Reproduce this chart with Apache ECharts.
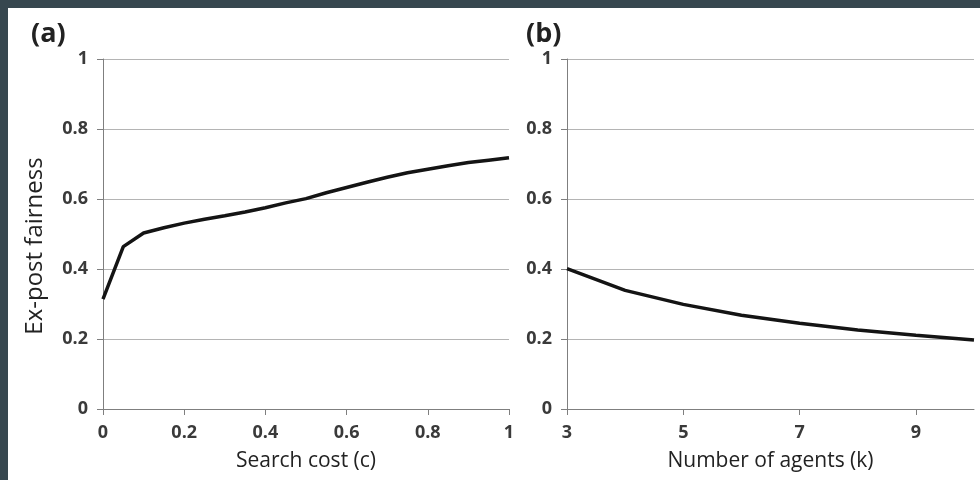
<!DOCTYPE html>
<html>
<head>
<meta charset="utf-8">
<script src="https://cdn.jsdelivr.net/npm/echarts@6/dist/echarts.min.js"></script>
<style>
  html, body { margin: 0; padding: 0; background: #37474f; }
  #chart { position: absolute; left: 8px; top: 8px; width: 972px; height: 472px; background: #fff; }
</style>
</head>
<body>
<div id="chart"></div>
<script>
// panel (a): fairness vs search cost
const costs = [0, 0.05, 0.1, 0.15, 0.2, 0.25, 0.3, 0.35, 0.4, 0.45, 0.5,
  0.55, 0.6, 0.65, 0.7, 0.75, 0.8, 0.85, 0.9, 0.95, 1]
const fairnessByCost = [0.314, 0.464, 0.503, 0.518, 0.531, 0.542, 0.552, 0.563, 0.575, 0.589, 0.601,
  0.618, 0.633, 0.648, 0.662, 0.675, 0.685, 0.695, 0.704, 0.711, 0.718]

// panel (b): fairness vs number of agents
const agents = [3, 4, 5, 6, 7, 8, 9, 10]
const fairnessByAgents = [0.401, 0.339, 0.299, 0.268, 0.245, 0.226, 0.211, 0.197]
const agentTicks = [3, 5, 7, 9]

const fontFamily = '"Open Sans", "Noto Sans", sans-serif'
const axisGray = '#7f7f7f'
const tickLabel = { margin: 15, fontFamily: fontFamily, fontSize: 18, fontWeight: 'bold', color: '#3a3a3a' }

function yAxisOpt(gridIndex, name) {
  return {
    type: 'value',
    gridIndex: gridIndex,
    min: 0,
    max: 1,
    interval: 0.2,
    name: name,
    nameLocation: 'middle',
    nameGap: 56,
    // right padding pushes the rotated title a bit down, like the original
    nameTextStyle: { fontFamily: fontFamily, fontSize: 24, color: '#222', padding: [0, 24, 0, 0] },
    axisLine: { show: true, lineStyle: { color: axisGray, width: 1 } },
    axisTick: { show: true, length: 6, lineStyle: { color: axisGray } },
    axisLabel: tickLabel,
    splitLine: { show: true, lineStyle: { color: '#b4b4b4', width: 1 } }
  }
}

const option = {
  animation: false,
  title: [
    { text: '(a)', left: 18, top: 8, textStyle: { fontFamily: fontFamily, fontSize: 27, fontWeight: 'bold', color: '#222' } },
    { text: '(b)', left: 513, top: 8, textStyle: { fontFamily: fontFamily, fontSize: 27, fontWeight: 'bold', color: '#222' } }
  ],
  grid: [
    { left: 95, top: 51, width: 406, height: 350 },
    { left: 559, top: 51, width: 407, height: 350 }
  ],
  xAxis: [
    {
      type: 'value',
      gridIndex: 0,
      min: 0,
      max: 1,
      interval: 0.2,
      name: 'Search cost (c)',
      nameLocation: 'middle',
      nameGap: 42,
      nameTextStyle: { fontFamily: fontFamily, fontSize: 21, color: '#222' },
      axisLine: { lineStyle: { color: axisGray, width: 1 } },
      axisTick: { length: 6, lineStyle: { color: axisGray } },
      axisLabel: tickLabel,
      splitLine: { show: false }
    },
    {
      type: 'value',
      gridIndex: 1,
      min: 3,
      max: 10,
      interval: 2,
      name: 'Number of agents (k)',
      nameLocation: 'middle',
      nameGap: 42,
      nameTextStyle: { fontFamily: fontFamily, fontSize: 21, color: '#222' },
      axisLine: { lineStyle: { color: axisGray, width: 1 } },
      axisTick: { length: 6, lineStyle: { color: axisGray }, customValues: agentTicks },
      axisLabel: Object.assign({}, tickLabel, { customValues: agentTicks }),
      splitLine: { show: false }
    }
  ],
  yAxis: [
    yAxisOpt(0, 'Ex-post fairness'),
    yAxisOpt(1, '')
  ],
  series: [
    {
      type: 'line',
      xAxisIndex: 0,
      yAxisIndex: 0,
      data: costs.map((c, i) => [c, fairnessByCost[i]]),
      showSymbol: false,
      lineStyle: { color: '#141414', width: 3.5 }
    },
    {
      type: 'line',
      xAxisIndex: 1,
      yAxisIndex: 1,
      data: agents.map((k, i) => [k, fairnessByAgents[i]]),
      showSymbol: false,
      lineStyle: { color: '#141414', width: 3.5 }
    }
  ]
}

const chart = echarts.init(document.getElementById('chart'))
chart.setOption(option)
</script>
</body>
</html>
